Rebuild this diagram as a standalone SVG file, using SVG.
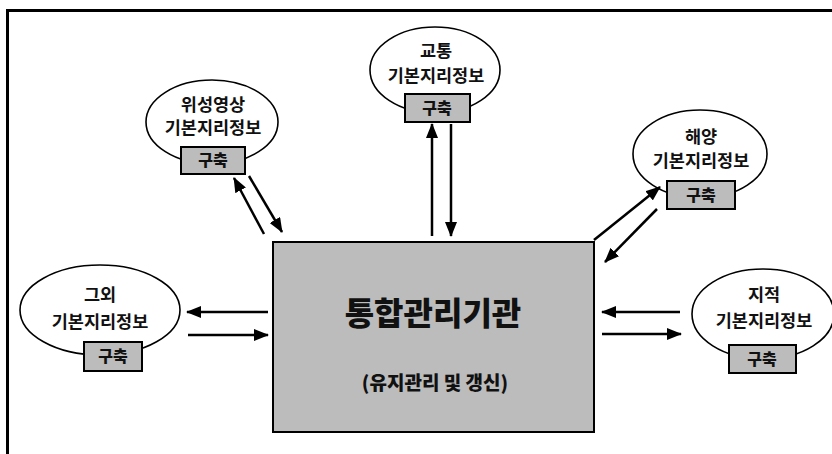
<svg xmlns="http://www.w3.org/2000/svg" width="832" height="454" viewBox="0 0 832 454">
<style>
.t{font-family:"Noto Sans CJK KR","Noto Sans",sans-serif;font-size:17.5px;fill:#111;text-anchor:middle;font-weight:600}
.b{font-family:"Noto Sans CJK KR","Noto Sans",sans-serif;font-size:16px;fill:#111;text-anchor:middle;font-weight:900}
.ell{fill:#fff;stroke:#000;stroke-width:1.6}
.box{fill:#bcbcbc;stroke:#000;stroke-width:2}
.c{stroke:#000;stroke-width:2.5;fill:none;marker-end:url(#ah)}
</style>
<defs>
<marker id="ah" markerUnits="userSpaceOnUse" markerWidth="16" markerHeight="12" refX="14" refY="6" orient="auto">
<path d="M0,0 L15,6 L0,12 Z" fill="#000"/>
</marker>
</defs>
<rect width="832" height="454" fill="#fff"/>
<path d="M7.5,454 V10.5 H832" fill="none" stroke="#000" stroke-width="3"/>

<g id="satellite">
<ellipse class="ell" cx="212" cy="122" rx="66" ry="42"/>
<text class="t" x="213" y="111">위성영상</text>
<text class="t" x="213" y="134">기본지리정보</text>
<rect class="box" x="181" y="147" width="64" height="27"/>
<text class="b" x="213" y="166">구축</text>
</g>

<g id="traffic">
<ellipse class="ell" cx="435" cy="70" rx="65" ry="43"/>
<text class="t" x="436" y="57">교통</text>
<text class="t" x="436" y="82">기본지리정보</text>
<rect class="box" x="405" y="94" width="65" height="28"/>
<text class="b" x="437" y="114">구축</text>
</g>

<g id="ocean">
<ellipse class="ell" cx="700" cy="154" rx="67" ry="44"/>
<text class="t" x="701" y="143">해양</text>
<text class="t" x="701" y="167">기본지리정보</text>
<rect class="box" x="667" y="181" width="68" height="28"/>
<text class="b" x="701" y="201">구축</text>
</g>

<g id="others">
<ellipse class="ell" cx="100" cy="310" rx="80" ry="45"/>
<text class="t" x="100" y="301">그외</text>
<text class="t" x="100" y="328">기본지리정보</text>
<rect class="box" x="84" y="342" width="58" height="29"/>
<text class="b" x="113" y="362">구축</text>
</g>

<g id="cadastre">
<ellipse class="ell" cx="763" cy="314" rx="71" ry="45"/>
<text class="t" x="764" y="301">지적</text>
<text class="t" x="764" y="327">기본지리정보</text>
<rect class="box" x="729" y="345" width="67" height="28"/>
<text class="b" x="762" y="365">구축</text>
</g>

<g id="center">
<rect class="box" x="273" y="242" width="321" height="190"/>
<text x="433" y="325" font-family="'Noto Sans CJK KR','Noto Sans',sans-serif" font-size="32" font-weight="900" text-anchor="middle" fill="#111">통합관리기관</text>
<text x="435" y="390" font-family="'Noto Sans CJK KR','Noto Sans',sans-serif" font-size="19" font-weight="900" text-anchor="middle" fill="#111">(유지관리 및 갱신)</text>
</g>

<g id="connectors">
<line class="c" x1="264" y1="234" x2="234" y2="178"/>
<line class="c" x1="249" y1="176" x2="282" y2="232"/>
<line class="c" x1="432" y1="236" x2="432" y2="124"/>
<line class="c" x1="451" y1="124" x2="451" y2="236"/>
<line class="c" x1="594" y1="240" x2="660" y2="187"/>
<line class="c" x1="657" y1="209" x2="605" y2="262"/>
<line class="c" x1="268" y1="312" x2="187" y2="312"/>
<line class="c" x1="188" y1="335" x2="268" y2="335"/>
<line class="c" x1="680" y1="312" x2="602" y2="312"/>
<line class="c" x1="602" y1="334" x2="681" y2="334"/>
</g>
</svg>
